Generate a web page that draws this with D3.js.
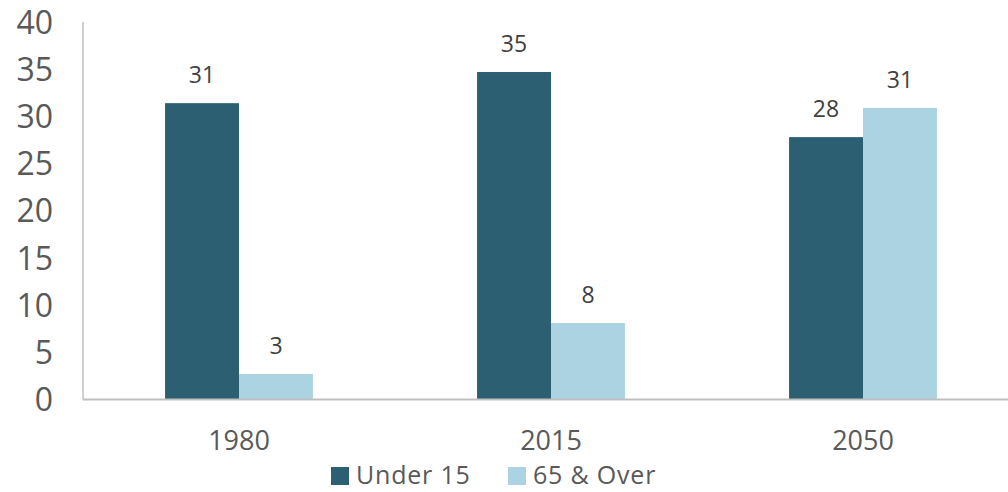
<!DOCTYPE html>
<html><head><meta charset="utf-8">
<script src="https://cdn.jsdelivr.net/npm/d3@7"></script>
<style>html,body{margin:0;padding:0;background:#fff;}svg{display:block;}</style>
</head><body>
<svg id="c" width="1008" height="492"></svg>
<script>
const categories = ["1980", "2015", "2050"];
const seriesNames = ["Under 15", "65 & Over"];
const under15 = [31.4, 34.7, 27.8];
const over65 = [2.7, 8.1, 30.9];
const yTicks = [0, 5, 10, 15, 20, 25, 30, 35, 40];
const colors = ["#2B5F71", "#ABD3E1"];

const svg = d3.select("#c");
const font = "'Open Sans', sans-serif";
const x0 = d3.scaleBand().domain(categories).range([83, 1019]).paddingInner(0.526).paddingOuter(0.263);
const x1 = d3.scaleBand().domain(seriesNames).range([0, x0.bandwidth()]);
const y = d3.scaleLinear().domain([0, 40]).range([399.5, 22]);

const rows = categories.map((c, i) => ({cat: c, vals: [under15[i], over65[i]]}));

// bars
const g = svg.append("g");
rows.forEach(r => {
  r.vals.forEach((v, j) => {
    g.append("rect")
      .attr("x", x0(r.cat) + x1(seriesNames[j]))
      .attr("y", y(v))
      .attr("width", x1.bandwidth())
      .attr("height", y(0) - y(v))
      .attr("fill", colors[j]);
    g.append("text")
      .attr("x", x0(r.cat) + x1(seriesNames[j]) + x1.bandwidth() / 2)
      .attr("y", y(v) - 20)
      .attr("text-anchor", "middle")
      .attr("font-family", font)
      .attr("font-size", 23)
      .attr("fill", "#404040")
      .text(d3.format(".0f")(v));
  });
});

// y axis
const yAxis = d3.axisLeft(y).tickValues(yTicks).tickSize(0).tickPadding(0).tickFormat(d3.format("d"));
const ya = svg.append("g").attr("transform", "translate(53,0)").call(yAxis);
ya.select(".domain").remove();
ya.selectAll("text").attr("font-family", font).attr("font-size", 32).attr("fill", "#595959").attr("dy", "0.35em").attr("x", 0);
svg.append("line").attr("x1", 83).attr("x2", 83).attr("y1", y(40)).attr("y2", y(0))
  .attr("stroke", "#BFBFBF").attr("stroke-width", 1.5);

// x axis
const xAxis = d3.axisBottom(x0).tickSize(0).tickPadding(0);
const xa = svg.append("g").attr("transform", "translate(0,450)").call(xAxis);
xa.select(".domain").remove();
xa.selectAll("text").attr("font-family", font).attr("font-size", 27).attr("fill", "#595959").attr("dy", 0).attr("y", 0);
svg.append("line").attr("x1", 83).attr("x2", 1008).attr("y1", y(0)).attr("y2", y(0))
  .attr("stroke", "#BFBFBF").attr("stroke-width", 2);

// legend
const legX = [331, 508];
seriesNames.forEach((s, j) => {
  svg.append("rect").attr("x", legX[j]).attr("y", 467).attr("width", 18).attr("height", 18).attr("fill", colors[j]);
  svg.append("text").attr("x", legX[j] + 25).attr("y", 484)
    .attr("font-family", font).attr("font-size", 25).attr("letter-spacing", 0.8)
    .attr("fill", "#595959").text(s);
});
</script>
</body></html>
